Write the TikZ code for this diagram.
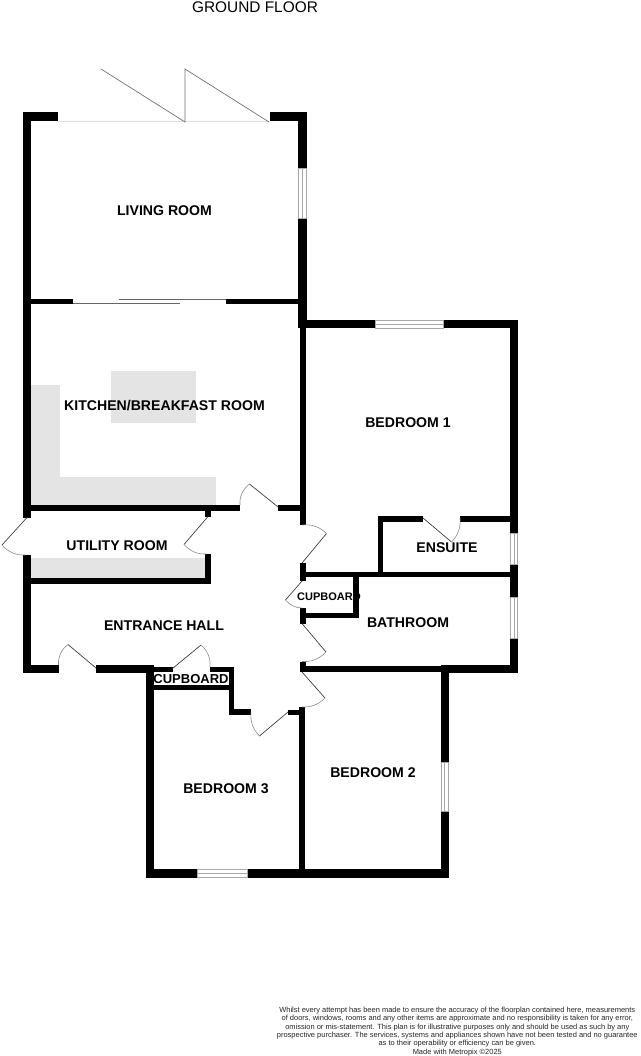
\documentclass[tikz,border=0pt]{standalone}
\usepackage{fontspec}
\setmainfont{Liberation Sans}
\usetikzlibrary{calc}
\definecolor{fitgrey}{HTML}{E4E4E4}
\definecolor{wingrey}{HTML}{A8A8A8}
\definecolor{arcgrey}{HTML}{8C8C8C}
\tikzset{
  room/.style={font=\bfseries\fontsize{14.1}{14.1}\selectfont,inner sep=0pt,text=black},
  roomsm/.style={font=\bfseries\fontsize{13}{13}\selectfont,inner sep=0pt,text=black},
  roomxs/.style={font=\bfseries\fontsize{11}{11}\selectfont,inner sep=0pt,text=black},
  leaf/.style={draw=black!75,line width=0.7pt},
  swing/.style={draw=arcgrey,line width=0.6pt},
  thinline/.style={draw=black!60,line width=0.9pt}
}
\newcommand{\wall}[4]{\fill[black] (#1,#2) rectangle (#3,#4);}
\newcommand{\fitting}[4]{\fill[fitgrey] (#1,#2) rectangle (#3,#4);}
\newcommand{\winh}[4]{% horizontal window: x1,y1,x2,y2
  \fill[white] (#1,#2) rectangle (#3,#4);
  \draw[wingrey,line width=0.8pt] (#1,#2) rectangle (#3,#4);
  \draw[wingrey,line width=0.8pt] (#1,{(#2+#4)/2}) -- (#3,{(#2+#4)/2});}
\newcommand{\winv}[4]{% vertical window
  \fill[white] (#1,#2) rectangle (#3,#4);
  \draw[wingrey,line width=0.8pt] (#1,#2) rectangle (#3,#4);
  \draw[wingrey,line width=0.8pt] ({(#1+#3)/2},#2) -- ({(#1+#3)/2},#4);}
\newcommand{\door}[3]{% hinge, leaf end, closing point
  \coordinate (H) at #1; \coordinate (P) at #2; \coordinate (Q) at #3;
  \coordinate (C) at ($(H)+0.586*($(P)-(H)$)+0.586*($(Q)-(H)$)$);
  \path[leaf] (H) -- (P);
  \path[swing] (P) .. controls ($(P)!0.667!(C)$) and ($(Q)!0.667!(C)$) .. (Q);}
\begin{document}
\begin{tikzpicture}[x=1pt,y=-1pt]
\useasboundingbox (0,0) rectangle (640,1056);
\fill[white] (0,0) rectangle (640,1056);
% fittings
\fitting{31}{385}{60}{505}
\fitting{31}{477}{216}{505}
\fitting{111}{371}{196}{423}
\fitting{31}{558}{205}{578}
% threshold
\draw[black!12,line width=0.6pt] (58,121.5) -- (270,121.5);
% outer and inner walls
\wall{22.5}{112}{58}{121.5}
\wall{270}{112}{306.5}{121.5}
\wall{22.5}{112}{31}{517.5}
\wall{22.5}{555}{31}{673}
\wall{298}{112}{306.5}{168}
\wall{298}{218}{306.5}{328}
\wall{31}{299}{73}{304.3}
\wall{225.5}{299}{298}{304.3}
\wall{299.5}{319.5}{375}{328.3}
\wall{443.5}{319.5}{518}{328.3}
\wall{510}{319.5}{518}{533}
\wall{510}{564.5}{518}{597}
\wall{510}{638}{518}{673}
\wall{299.5}{304}{305.5}{525}
\wall{31}{505}{240}{510.7}
\wall{278}{505}{305}{510.7}
\wall{205}{510}{211}{516.5}
\wall{205}{554}{211}{583.7}
\wall{31}{577.7}{211}{583.7}
\wall{22.5}{665}{58.5}{673}
\wall{96}{665}{154}{673}
\wall{145.5}{665}{154}{877.5}
\wall{154}{666.7}{172.5}{671.5}
\wall{210}{666.7}{234}{671.5}
\wall{154}{685}{234}{689.5}
\wall{228.5}{667}{234}{715}
\wall{228.5}{709}{251}{715}
\wall{288}{709.5}{302}{715}
\wall{299.3}{707}{305.3}{877.5}
\wall{299.5}{563}{305.5}{581}
\wall{299.5}{608}{305.5}{623.5}
\wall{299.5}{661.7}{305.5}{672}
\wall{300}{572}{510}{577.3}
\wall{305}{613.3}{359}{618.3}
\wall{353.3}{577}{359}{618}
\wall{300}{665.7}{441}{672}
\wall{441}{664.5}{518}{673}
\wall{440.7}{672}{449}{762.7}
\wall{440.7}{811.7}{449}{877.5}
\wall{377.5}{516}{383}{572}
\wall{377.5}{516}{423}{521.5}
\wall{460}{516}{510}{521.5}
\wall{145.5}{869.3}{197.5}{877.5}
\wall{247}{869.3}{449}{877.5}
% windows
\winv{298.5}{168}{306}{218}
\winh{375}{320}{443.5}{328}
\winv{510.5}{533}{517.5}{564.5}
\winv{510.5}{597}{517.5}{638}
\winv{441.2}{762.7}{448.5}{811.7}
\winh{197.5}{869.8}{247}{877}
% folding doors
\coordinate (fa) at (101,69); \coordinate (fb) at (185,122);
\coordinate (fc) at (185,69); \coordinate (fd) at (269,122);
\draw[black!55,line width=0.7pt] (fa) -- (fb) -- (fc) -- (fd);
% sliding doors
\coordinate (sa) at (73,303.7); \coordinate (sb) at (180,303.7);
\coordinate (sc) at (118.5,299.5); \coordinate (sd) at (225.5,299.5);
\draw[thinline] (sa) -- (sb);
\draw[thinline] (sc) -- (sd);
% hinged doors
\door{(278,507)}{(249.5,484)}{(240,505)}
\door{(302,563)}{(326.5,533.5)}{(302,525)}
\door{(27,517.5)}{(2,545)}{(25,555)}
\door{(208,516.5)}{(184,544.5)}{(207,554)}
\door{(302,581)}{(285.5,600)}{(302,608)}
\door{(302,623.5)}{(326,652)}{(302,661.5)}
\door{(302,672)}{(325,698)}{(302,707)}
\door{(288,712)}{(259.5,736)}{(251,712)}
\door{(96,668)}{(68,644.5)}{(58.5,665)}
\door{(172.5,668.5)}{(201,645)}{(210,667)}
\door{(423,518)}{(451.5,542)}{(460,518)}
% labels
\node[inner sep=0pt,font=\fontsize{15.4}{15.4}\selectfont] (title) at (255,7) {GROUND FLOOR};
\node[room] (living) at (164.5,211) {LIVING ROOM};
\node[room] (kitchen) at (164.5,406) {KITCHEN/BREAKFAST ROOM};
\node[room] (utility) at (117,546) {UTILITY ROOM};
\node[room] (hall) at (164,626) {ENTRANCE HALL};
\node[room] (bed1) at (408,423) {BEDROOM 1};
\node[room] (bed2) at (373,773) {BEDROOM 2};
\node[room] (bed3) at (226,789) {BEDROOM 3};
\node[room] (ensuite) at (447,548) {ENSUITE};
\node[room] (bath) at (408,623) {BATHROOM};
\node[roomsm] (cupa) at (191,679) {CUPBOARD};
\node[roomxs] (cupb) at (329,597) {CUPBOARD};
\node[inner sep=0pt,align=center,font=\fontsize{7.48}{8.33}\selectfont,text=black!85] (note) at (457.3,1031.3)
{Whilst every attempt has been made to ensure the accuracy of the floorplan contained here, measurements\\
of doors, windows, rooms and any other items are approximate and no responsibility is taken for any error,\\
omission or mis-statement. This plan is for illustrative purposes only and should be used as such by any\\
prospective purchaser. The services, systems and appliances shown have not been tested and no guarantee\\
as to their operability or efficiency can be given.\\
Made with Metropix ©2025};
\end{tikzpicture}
\end{document}
